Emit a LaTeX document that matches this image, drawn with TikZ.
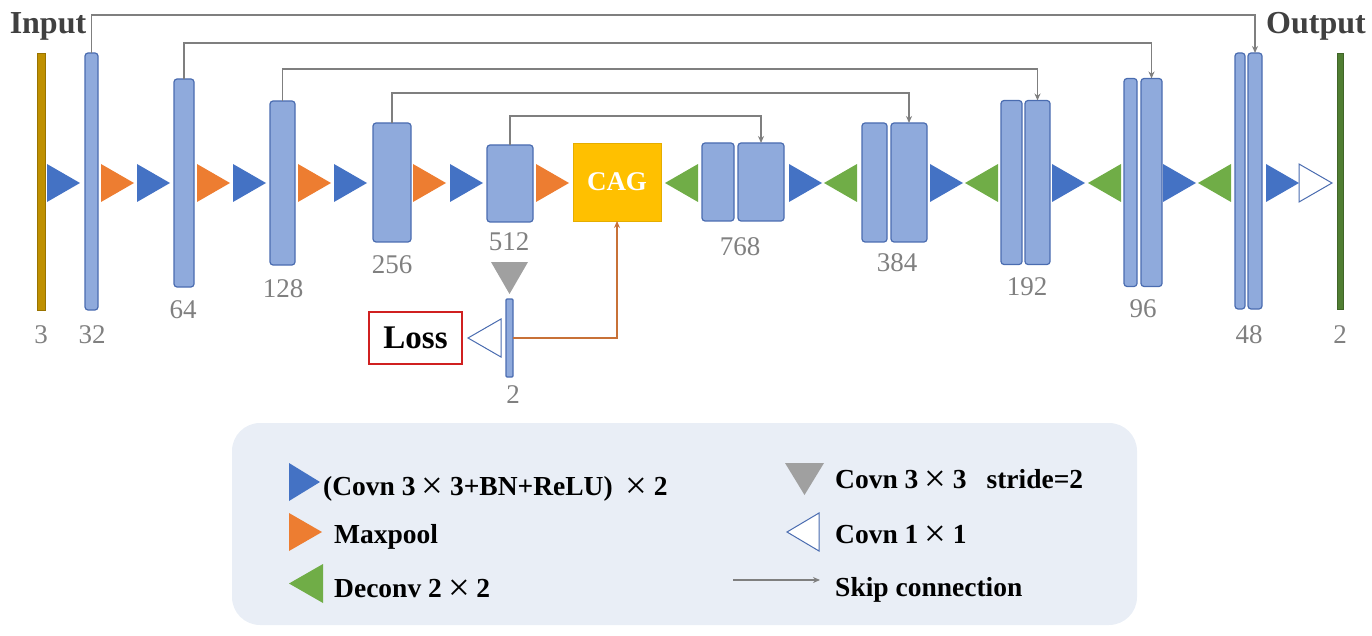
\documentclass[tikz,border=0pt]{standalone}
\usepackage{fontspec}
\usepackage{graphicx}
\setmainfont{Liberation Serif}
\usetikzlibrary{arrows.meta}
\definecolor{barfill}{HTML}{8FAADC}
\definecolor{barline}{HTML}{4A6CB0}
\definecolor{tblue}{HTML}{4472C4}
\definecolor{torange}{HTML}{ED7D31}
\definecolor{tgreen}{HTML}{70AD47}
\definecolor{tgray}{HTML}{A0A0A0}
\definecolor{cagc}{HTML}{FFC000}
\definecolor{skipc}{HTML}{7F7F7F}
\definecolor{inbar}{HTML}{BF9000}
\definecolor{outbar}{HTML}{507E32}
\definecolor{legbg}{HTML}{E9EEF6}
\definecolor{numc}{HTML}{808080}
\definecolor{lossred}{HTML}{D02020}
\definecolor{oline}{HTML}{C87137}
\definecolor{headc}{HTML}{404040}
\newcommand\triR[2]{\fill[#2] (#1,164) -- (#1+33,183) -- (#1,202) -- cycle;}
\newcommand\triL[2]{\fill[#2] (#1,183) -- (#1+33,164) -- (#1+33,202) -- cycle;}
\newcommand\TM{\makebox[1.25em]{\raisebox{-0.14em}{\scalebox{1.4}{\mdseries ×}}}}
\tikzset{
 bar/.style={draw=barline, fill=barfill, line width=1.2pt, rounded corners=3pt, inner sep=0pt, outer sep=0pt},
 num/.style={text=numc, font=\fontsize{27}{30}\selectfont, inner sep=0pt},
 skip/.style={draw=skipc, line width=1.5pt, -{Stealth[length=7pt,width=6pt]}},
 legtext/.style={font=\bfseries\fontsize{27.5}{30}\selectfont, anchor=base west, inner sep=0pt},
 head/.style={font=\bfseries\fontsize{32}{34}\selectfont, text=headc, inner sep=0pt}
}
\begin{document}
\begin{tikzpicture}[x=1pt,y=-1pt]
\useasboundingbox (0,0) rectangle (1372,636);
% legend background
\node[fill=legbg, rounded corners=28pt, minimum width=905pt, minimum height=202pt, inner sep=0pt] (legend) at (684.5,524) {};
% headings
\node[head] (input) at (48,26) {Input};
\node[head] (output) at (1316,26) {Output};
% bars
\node[draw=inbar!80!black, fill=inbar, line width=0.8pt, minimum width=8pt, minimum height=257pt, inner sep=0pt, outer sep=0pt] (in3) at (41,181.5) {};
\node[bar, minimum width=13pt, minimum height=257pt] (b32) at (91.5,181.5) {};
\node[bar, minimum width=20pt, minimum height=208pt] (b64) at (184,183) {};
\node[bar, minimum width=25pt, minimum height=164pt] (b128) at (282.5,183) {};
\node[bar, minimum width=38pt, minimum height=119pt] (b256) at (392,182.5) {};
\node[bar, minimum width=46pt, minimum height=77pt] (b512) at (510,183.5) {};
\node[fill=cagc, draw=cagc!90!black, minimum width=88pt, minimum height=78pt, inner sep=0pt, outer sep=0pt, text=white, font=\bfseries\fontsize{27}{30}\selectfont] (cag) at (617,182) {CAG};
\node[bar, minimum width=32pt, minimum height=78pt] (d768a) at (718,182) {};
\node[bar, minimum width=46pt, minimum height=78pt] (d768b) at (761,182) {};
\node[bar, minimum width=25pt, minimum height=119pt] (d384a) at (874.5,182.5) {};
\node[bar, minimum width=36pt, minimum height=119pt] (d384b) at (909,182.5) {};
\node[bar, minimum width=21pt, minimum height=164pt] (d192a) at (1011.5,182.5) {};
\node[bar, minimum width=25pt, minimum height=164pt] (d192b) at (1037.5,182.5) {};
\node[bar, minimum width=13pt, minimum height=208pt] (d96a) at (1130.5,182.5) {};
\node[bar, minimum width=21pt, minimum height=208pt] (d96b) at (1151.5,182.5) {};
\node[bar, minimum width=10pt, minimum height=256pt] (d48a) at (1240,181) {};
\node[bar, minimum width=14pt, minimum height=256pt] (d48b) at (1255,181) {};
\node[draw=outbar!80!black, fill=outbar, line width=0.8pt, minimum width=6pt, minimum height=256pt, inner sep=0pt, outer sep=0pt] (out2) at (1340,181) {};
\node[bar, rounded corners=1pt, minimum width=7pt, minimum height=78pt] (sb) at (509.5,338) {};
% loss
\node[draw=lossred, line width=1.5pt, minimum width=93pt, minimum height=52pt, inner sep=0pt, font=\bfseries\fontsize{33}{36}\selectfont] (loss) at (415.5,338) {Loss};
% triangles in main row
\foreach \x in {47,137,233,334,450,789,930,1052,1163,1266} {\triR{\x}{tblue}}
\foreach \x in {101,197,298,413,536} {\triR{\x}{torange}}
\foreach \x in {665,824,965,1088,1198} {\triL{\x}{tgreen}}
\draw[barline, line width=1pt, fill=white] (1299,164) -- (1332,183) -- (1299,202) -- cycle;
% gray down triangle and 1x1 conv
\fill[tgray] (491,262) -- (528,262) -- (509.5,294) -- cycle;
\draw[barline, line width=1pt, fill=white] (468,338) -- (501,319) -- (501,357) -- cycle;
% skip connections
\draw[skip] (b32.north) -- ++(0,-38) -| (d48b.north);
\draw[skip] (b64.north) -- ++(0,-36) -| (d96b.north);
\draw[skip] (b128.north) -- ++(0,-32) -| (d192b.north);
\draw[skip] (b256.north) -- ++(0,-30) -| (d384b.north);
\draw[skip] (b512.north) -- ++(0,-29) -| (d768b.north);
% orange connection
\draw[draw=oline, line width=1.5pt, -{Stealth[length=7pt,width=6pt]}] (sb.east) -| (cag.south);
% numbers
\node[num] (n3) at (41,335) {3};
\node[num] (n32) at (92,335) {32};
\node[num] (n64) at (183,310) {64};
\node[num] (n128) at (283,289) {128};
\node[num] (n256) at (392,265) {256};
\node[num] (n512) at (509,242) {512};
\node[num] (n768) at (740,247) {768};
\node[num] (n384) at (897,263) {384};
\node[num] (n192) at (1027,287) {192};
\node[num] (n96) at (1143,309) {96};
\node[num] (n48) at (1249,335) {48};
\node[num] (n2) at (1340,335) {2};
\node[num] (nsb) at (513,395) {2};
% legend items
\fill[tblue] (289,463) -- (320,482) -- (289,501) -- cycle;
\fill[torange] (289,513) -- (322,532) -- (289,551) -- cycle;
\fill[tgreen] (289,583.5) -- (323,564) -- (323,603) -- cycle;
\fill[tgray] (785,463) -- (824,463) -- (804.5,495) -- cycle;
\draw[barline, line width=1pt, fill=white] (787,532) -- (819,513) -- (819,551) -- cycle;
\coordinate (skipA) at (733,580);
\coordinate (skipB) at (820,580);
\draw[skip] (skipA) -- (skipB);
\node[legtext] (l1) at (323,495) {(Covn 3\TM3+BN+ReLU) \TM2};
\node[legtext] (l2) at (334,543) {Maxpool};
\node[legtext] (l3) at (334,597) {Deconv 2\TM2};
\node[legtext] (l4) at (835,488) {Covn 3\TM3\hspace{20pt}stride=2};
\node[legtext] (l5) at (835,543) {Covn 1\TM1};
\node[legtext] (l6) at (835,596) {Skip connection};
\end{tikzpicture}
\end{document}
